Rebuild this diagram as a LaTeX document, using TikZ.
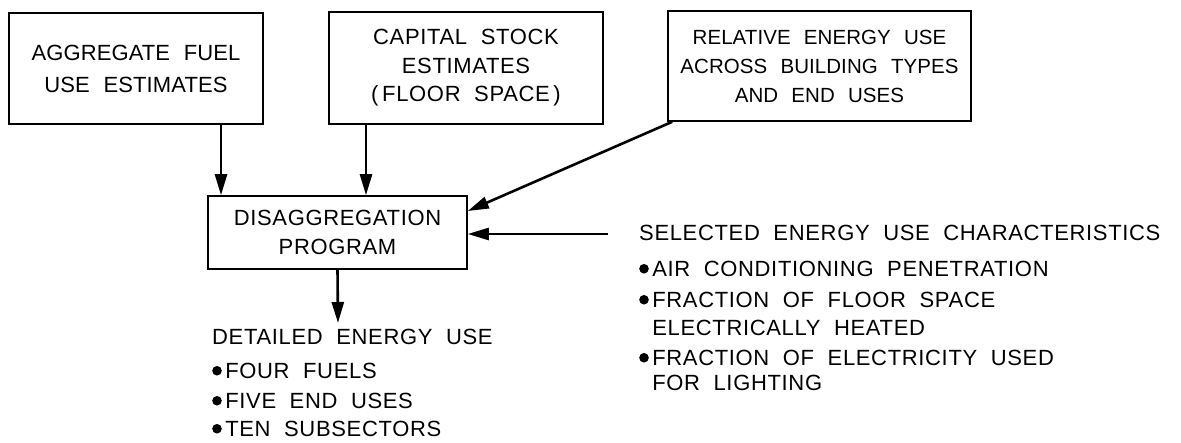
\documentclass[tikz,border=0pt]{standalone}
\usepackage{fontspec}
\setmainfont{Liberation Sans}[LetterSpace=3,WordSpace=2]
\newfontfamily\tightfont{Liberation Sans}[LetterSpace=0.5,WordSpace=2.2]
\newfontfamily\boxcfont{Liberation Sans}[LetterSpace=0.3,WordSpace=2.3]
\usetikzlibrary{arrows.meta}
\newcommand{\bul}{\tikz[baseline={(0,-7.8pt)}]\fill (0,0) circle (4.8pt);\hspace{3.5pt}}
\newcommand{\nobul}{\hspace{13.1pt}}
\begin{document}
\begin{tikzpicture}[x=1pt,y=-1pt,
  every node/.style={font=\fontsize{22}{30}\selectfont, inner sep=0pt},
  box/.style={draw, line width=1.6pt, align=center},
  flow/.style={line width=2.6pt, -{Triangle[length=21pt,width=12pt]}},
  txt/.style={align=left, anchor=north west}]
\useasboundingbox (0,0) rectangle (1181,443);
% boxes
\node[box, minimum width=254pt, minimum height=111pt, font=\tightfont\fontsize{22}{32}\selectfont] (agg) at (136,68.5) {AGGREGATE FUEL\\USE ESTIMATES};
\node[box, minimum width=274pt, minimum height=112pt, font=\fontsize{22}{28.5}\selectfont] (cap) at (466,68) {CAPITAL STOCK\\ESTIMATES\\(\,FLOOR SPACE\,)};
\node[box, minimum width=303pt, minimum height=110pt, font=\boxcfont\fontsize{20.5}{29}\selectfont] (rel) at (819.5,66) {RELATIVE ENERGY USE\\ACROSS BUILDING TYPES\\AND END USES};
\node[box, minimum width=259pt, minimum height=73pt, font=\fontsize{22}{29}\selectfont] (dis) at (337.5,232.5) {DISAGGREGATION\\PROGRAM};
% text blocks
\node[txt] (det) at (212,329) {DETAILED ENERGY USE\\[4pt]
  \bul FOUR FUELS\\
  \bul FIVE END USES\\[-2pt]
  \bul TEN SUBSECTORS};
\node[txt] (sel) at (639,225) {SELECTED ENERGY USE CHARACTERISTICS\\[6pt]
  \bul AIR CONDITIONING PENETRATION\\[1pt]
  \bul FRACTION OF FLOOR SPACE\\[-2pt]
  \nobul ELECTRICALLY HEATED\\[0pt]
  \bul FRACTION OF ELECTRICITY USED\\[-5pt]
  \nobul FOR LIGHTING};
\coordinate (selin) at (608,234);
\coordinate (detin) at (338,323);
% connectors
\draw[flow] (agg.south -| 221,0) -- (dis.north -| 221,0);
\draw[flow] (cap.south -| 366,0) -- (dis.north -| 366,0);
\draw[flow] ([xshift=5pt]rel.south west) -- (dis.east |- 0,211);
\draw[flow] (selin) -- (dis.east |- selin);
\draw[flow] (dis.south) -- (detin);
\end{tikzpicture}
\end{document}
